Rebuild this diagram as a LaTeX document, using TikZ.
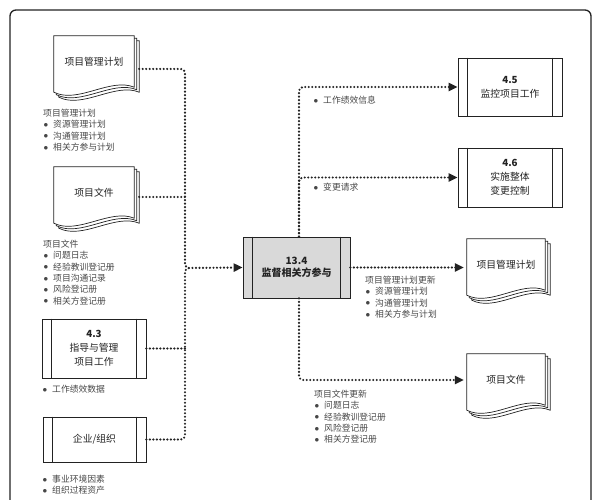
\documentclass[tikz,border=0pt]{standalone}
\usepackage{fontspec}
\setmainfont{Noto Sans CJK SC}
\usetikzlibrary{arrows.meta,calc}

\definecolor{ink}{HTML}{222222}
\definecolor{txt}{HTML}{474747}
\definecolor{procfill}{HTML}{D9D9D9}

\pgfdeclarelayer{background}
\pgfsetlayers{background,main}

% bullet for the lists
\newcommand\bul{\makebox[10pt][l]{\hspace{0.5pt}\raisebox{0.3pt}{$\bullet$}}}
% stack of three pages behind a document node
\newcommand\docpile[1]{%
  \begin{pgfonlayer}{background}
  \foreach \s in {5,2.5,0}{%
    \draw[ink, line width=0.7pt, fill=white]
      ($(#1.south west)+(\s,\s+4)$) -- ($(#1.north west)+(\s,\s)$)
      -- ($(#1.north east)+(\s,\s)$) -- ($(#1.south east)+(\s,\s-1)$)
      .. controls ($(#1.south west)!0.7!(#1.south east)+(\s,\s-11)$)
      and ($(#1.south west)!0.3!(#1.south east)+(\s,\s+16)$)
      .. ($(#1.south west)+(\s,\s+4)$) -- cycle;
  }
  \end{pgfonlayer}}

\begin{document}
\begin{tikzpicture}[x=1pt,y=-1pt,
    title/.style={font=\fontsize{9.8}{13.8}\selectfont},
    proc/.style={title, draw=ink, line width=0.7pt, fill=white, align=center,
      inner sep=0pt, text=ink},
    doc/.style={title, minimum width=80pt, minimum height=52pt, inner sep=0pt,
      text=ink},
    lst/.style={anchor=north west, inner sep=0pt, align=left, text=txt,
      font=\fontsize{8.8}{11.3}\selectfont},
    flow/.style={ink, line width=2.4pt, dash pattern=on 0pt off 3.5pt,
      line cap=round, rounded corners=4pt},
    arr/.style={-{Triangle[length=9pt,width=8pt]}}]
  \useasboundingbox (0,0) rectangle (598,500);

  % outer frame
  \draw[ink, line width=1.3pt, rounded corners=6pt] (10,520) -- (10,10) -- (591,10) -- (591,520);

  % inputs
  \node[doc] (pmp) at (94,62) {项目管理计划};
  \docpile{pmp}
  \node[lst] (pmplist) at (43,109) {项目管理计划\\\bul 资源管理计划\\\bul 沟通管理计划\\\bul 相关方参与计划};

  \node[doc] (pd) at (94,193) {项目文件};
  \docpile{pd}
  \node[lst] (pdlist) at (43,240) {项目文件\\\bul 问题日志\\\bul 经验教训登记册\\\bul 项目沟通记录\\\bul 风险登记册\\\bul 相关方登记册};

  \node[proc, minimum width=104pt, minimum height=59pt] (dir) at (94,348.5) {\textbf{4.3}\\指导与管理\\项目工作};
  \node[lst] (dirlist) at (42,385) {\bul 工作绩效数据};

  \node[proc, minimum width=103pt, minimum height=45pt] (ent) at (94.5,439.5) {企业/组织};
  \node[lst] (entlist) at (42,475) {\bul 事业环境因素\\\bul 组织过程资产};

  % the process
  \node[proc, fill=procfill, font=\bfseries, minimum width=107pt, minimum height=61pt] (mon) at (296.5,267.5) {13.4\\监督相关方参与};

  % outputs
  \node[proc, minimum width=104pt, minimum height=58pt] (mc) at (510,87) {\textbf{4.5}\\监控项目工作};
  \node[lst] (mclist) at (313,96) {\bul 工作绩效信息};

  \node[proc, minimum width=104pt, minimum height=59pt] (ic) at (510,177.5) {\textbf{4.6}\\实施整体\\变更控制};
  \node[lst] (iclist) at (313,183) {\bul 变更请求};

  \node[doc, minimum width=78pt] (pmpu) at (506,265) {项目管理计划};
  \docpile{pmpu}
  \node[lst] (pmpulist) at (365,276) {项目管理计划更新\\\bul 资源管理计划\\\bul 沟通管理计划\\\bul 相关方参与计划};

  \node[doc, minimum width=78pt] (pdu) at (506,380) {项目文件};
  \docpile{pdu}
  \node[lst] (pdulist) at (314,390) {项目文件更新\\\bul 问题日志\\\bul 经验教训登记册\\\bul 风险登记册\\\bul 相关方登记册};

  % side bars of the process boxes
  \foreach \n in {dir,ent,mon,mc,ic}
    \draw[ink, line width=0.7pt] ($(\n.north west)+(10,0)$) -- ($(\n.south west)+(10,0)$)
      ($(\n.north east)+(-10,0)$) -- ($(\n.south east)+(-10,0)$);

  % connectors in
  \coordinate (bus) at (185,268);
  \coordinate (busend) at (190,268);
  \coordinate (pmpout) at ($(pmp.east)+(5,7)$);
  \coordinate (pdout) at ($(pd.east)+(5,4)$);
  \draw[flow,arr] (pmpout) -| (bus) -- (mon.west);
  \draw[flow] (pdout) -- (pdout -| bus);
  \draw[flow] (dir.east) -- (dir.east -| bus);
  \draw[flow] (ent.east) -| (bus) -- (busend);

  % connectors out
  \coordinate (spine) at ($(mon.north)+(2.5,0)$);
  \coordinate (spineb) at ($(mon.south)+(2.5,0)$);
  \draw[flow,arr] (spine) |- (mc.west);
  \draw[flow,arr] (spine) |- (ic.west);
  \draw[flow,arr,shorten >=3pt] (mon.east) -- (mon.east -| pmpu.west);
  \draw[flow,arr,shorten >=3pt] (spineb) |- (pdu.west);
\end{tikzpicture}
\end{document}
